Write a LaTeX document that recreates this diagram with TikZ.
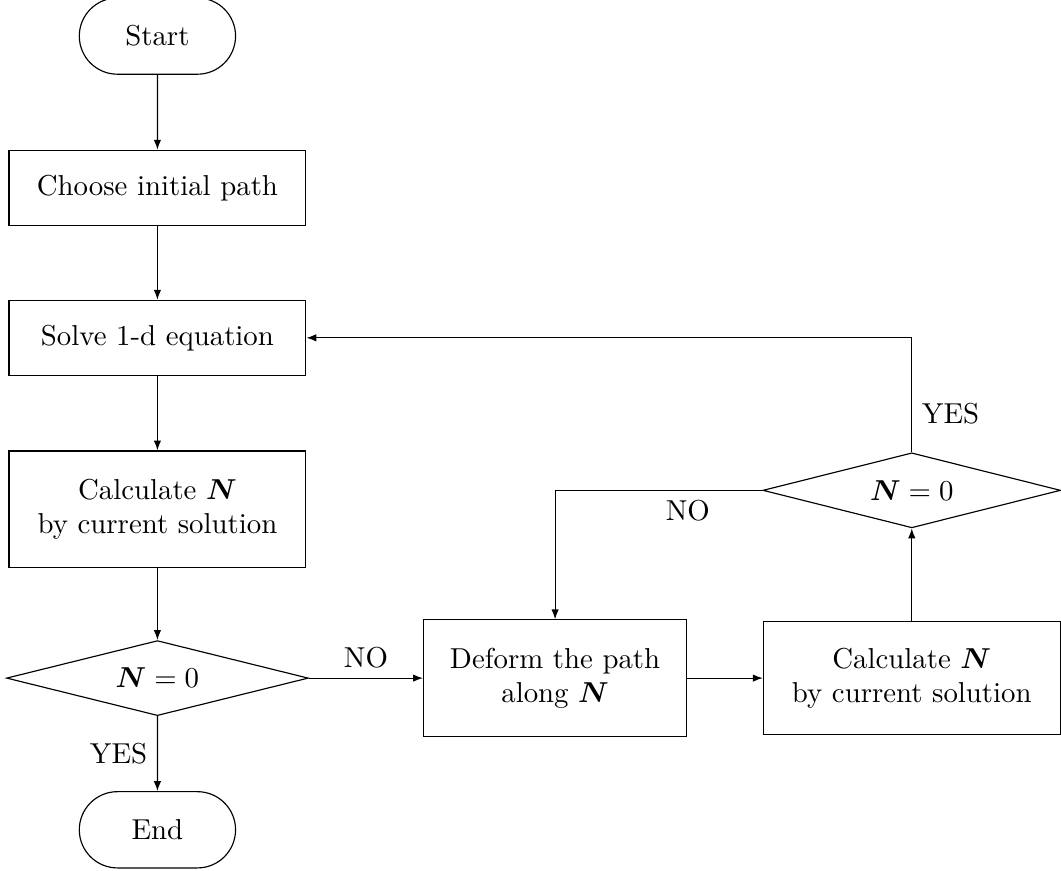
\documentclass[tikz,border=0pt]{standalone}
\usepackage{amsmath}
\usepackage{tikz}
\usetikzlibrary{
    shapes.geometric, shapes.misc,
    arrows.meta, positioning, calc
}
\tikzset{
  term/.style={rounded rectangle, draw, minimum width=2.14cm,
               minimum height=0.93cm, align=center},
  proc/.style={rectangle, draw, minimum width=3.62cm,
               minimum height=0.915cm, align=center},
  proc2/.style={proc, minimum height=1.42cm},
  decide/.style={diamond, draw, aspect=4, inner sep=0pt, minimum width=3.68cm,
                 minimum height=0.915cm, align=center},
  arr/.style={-{Latex[length=1.2mm, width=0.9mm]}},
}

\begin{document}
\begin{tikzpicture}
  \useasboundingbox (0,0) rectangle (12.94,-10.62);
  % main column
  \node[term] (start) at (1.92,-0.44) {Start};
  \node[proc] (choose) at (1.92,-2.29) {Choose initial path};
  \node[proc] (solve) at (1.92,-4.12) {Solve 1-d equation};
  \node[proc2] (calc) at (1.92,-6.21) {Calculate $\boldsymbol{N}$\\by current solution};
  \node[decide] (test) at (1.92,-8.27) {$\boldsymbol{N}=0$};
  \node[term] (stop) at (1.92,-10.12) {End};
  % correction loop
  \node[proc2, minimum width=3.21cm] (deform) at (6.77,-8.27) {Deform the path\\along $\boldsymbol{N}$};
  \node[proc2, minimum height=1.38cm] (recalc) at (11.12,-8.27) {Calculate $\boldsymbol{N}$\\by current solution};
  \node[decide, minimum width=3.63cm] (retest) at (11.12,-5.98) {$\boldsymbol{N}=0$};

  \draw[arr] (start) -- (choose);
  \draw[arr] (choose) -- (solve);
  \draw[arr] (solve) -- (calc);
  \draw[arr] (calc) -- (test);
  \draw[arr] (test) -- node[midway, left] {YES} (stop);
  \draw[arr] (test) -- node[midway, above] {NO} (deform);
  \draw[arr] (deform) -- (recalc);
  \draw[arr] (recalc) -- (retest);
  \draw[arr] (retest.north) |- node[pos=0.17, right] {YES} (solve.east);
  \draw[arr] (retest.west) -| node[pos=0.18, below] {NO} (deform.north);
\end{tikzpicture}
\end{document}
